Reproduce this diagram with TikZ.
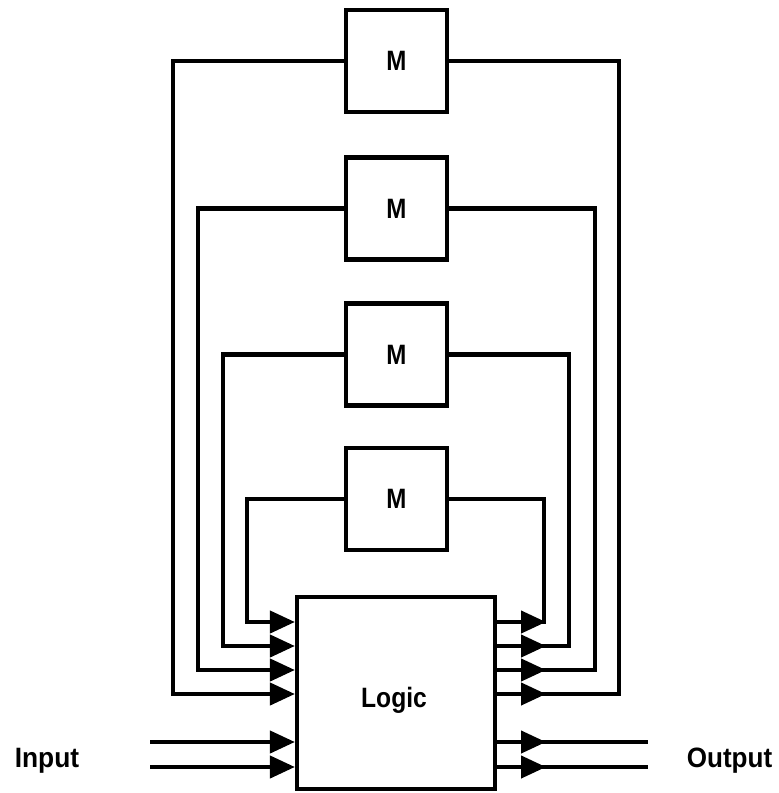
\documentclass[tikz,border=0pt]{standalone}
\usepackage{fontspec}
\setmainfont{Liberation Sans}
\usetikzlibrary{arrows.meta}
\begin{document}
\begin{tikzpicture}[x=1pt,y=-1pt,
  wire/.style={line width=4.2pt},
  mbox/.style={draw,line width=4.2pt,minimum width=101pt,minimum height=102pt,inner sep=0pt,font=\fontsize{28}{32}\selectfont\bfseries},
  logicbox/.style={draw,line width=4.2pt,minimum width=198pt,minimum height=192pt,inner sep=0pt},
  lbl/.style={font=\fontsize{28}{32}\selectfont\bfseries,anchor=base,inner sep=0pt},
  tip/.style={-{Triangle[length=25pt,width=22pt]}}]
\useasboundingbox (0,0) rectangle (779,793);

% memory boxes
\node[mbox] (m1) at (396.5,61) {\scalebox{0.86}[1]{M}};
\node[mbox] (m2) at (396.5,208.5) {\scalebox{0.86}[1]{M}};
\node[mbox] (m3) at (396.5,354.5) {\scalebox{0.86}[1]{M}};
\node[mbox] (m4) at (396.5,499) {\scalebox{0.86}[1]{M}};

% logic box
\node[logicbox] (logic) at (396,693) {};
\node[lbl] (logictxt) at (394,707) {\scalebox{0.88}[1]{Logic}};

% labels
\node[lbl] (inlbl) at (47,767) {\scalebox{0.94}[1]{Input}};
\node[lbl] (outlbl) at (729.5,767) {\scalebox{0.93}[1]{Output}};

% free ends
\coordinate (i1) at (150,742);
\coordinate (i2) at (150,767);
\coordinate (o1) at (648,742);
\coordinate (o2) at (648,767);

% feedback into logic (left side)
\draw[wire,tip] (m4.west) -| (247,622) -- (logic.west |- 0,622);
\draw[wire,tip] (m3.west) -| (223,646) -- (logic.west |- 0,646);
\draw[wire,tip] (m2.west) -| (198,670) -- (logic.west |- 0,670);
\draw[wire,tip] (m1.west) -| (173,694) -- (logic.west |- 0,694);

% from logic to memories (right side)
\draw[wire] (logic.east |- 0,622) -- (544,622) |- (m4.east);
\draw[wire] (logic.east |- 0,646) -- (569,646) |- (m3.east);
\draw[wire] (logic.east |- 0,670) -- (595,670) |- (m2.east);
\draw[wire] (logic.east |- 0,694) -- (619,694) |- (m1.east);
\foreach \yy in {622,646,670,694,742,767}
  \draw[wire,tip] (512,\yy) -- (546,\yy);

% inputs and outputs
\draw[wire,tip] (i1) -- (logic.west |- i1);
\draw[wire,tip] (i2) -- (logic.west |- i2);
\draw[wire] (logic.east |- o1) -- (o1);
\draw[wire] (logic.east |- o2) -- (o2);
\end{tikzpicture}
\end{document}
